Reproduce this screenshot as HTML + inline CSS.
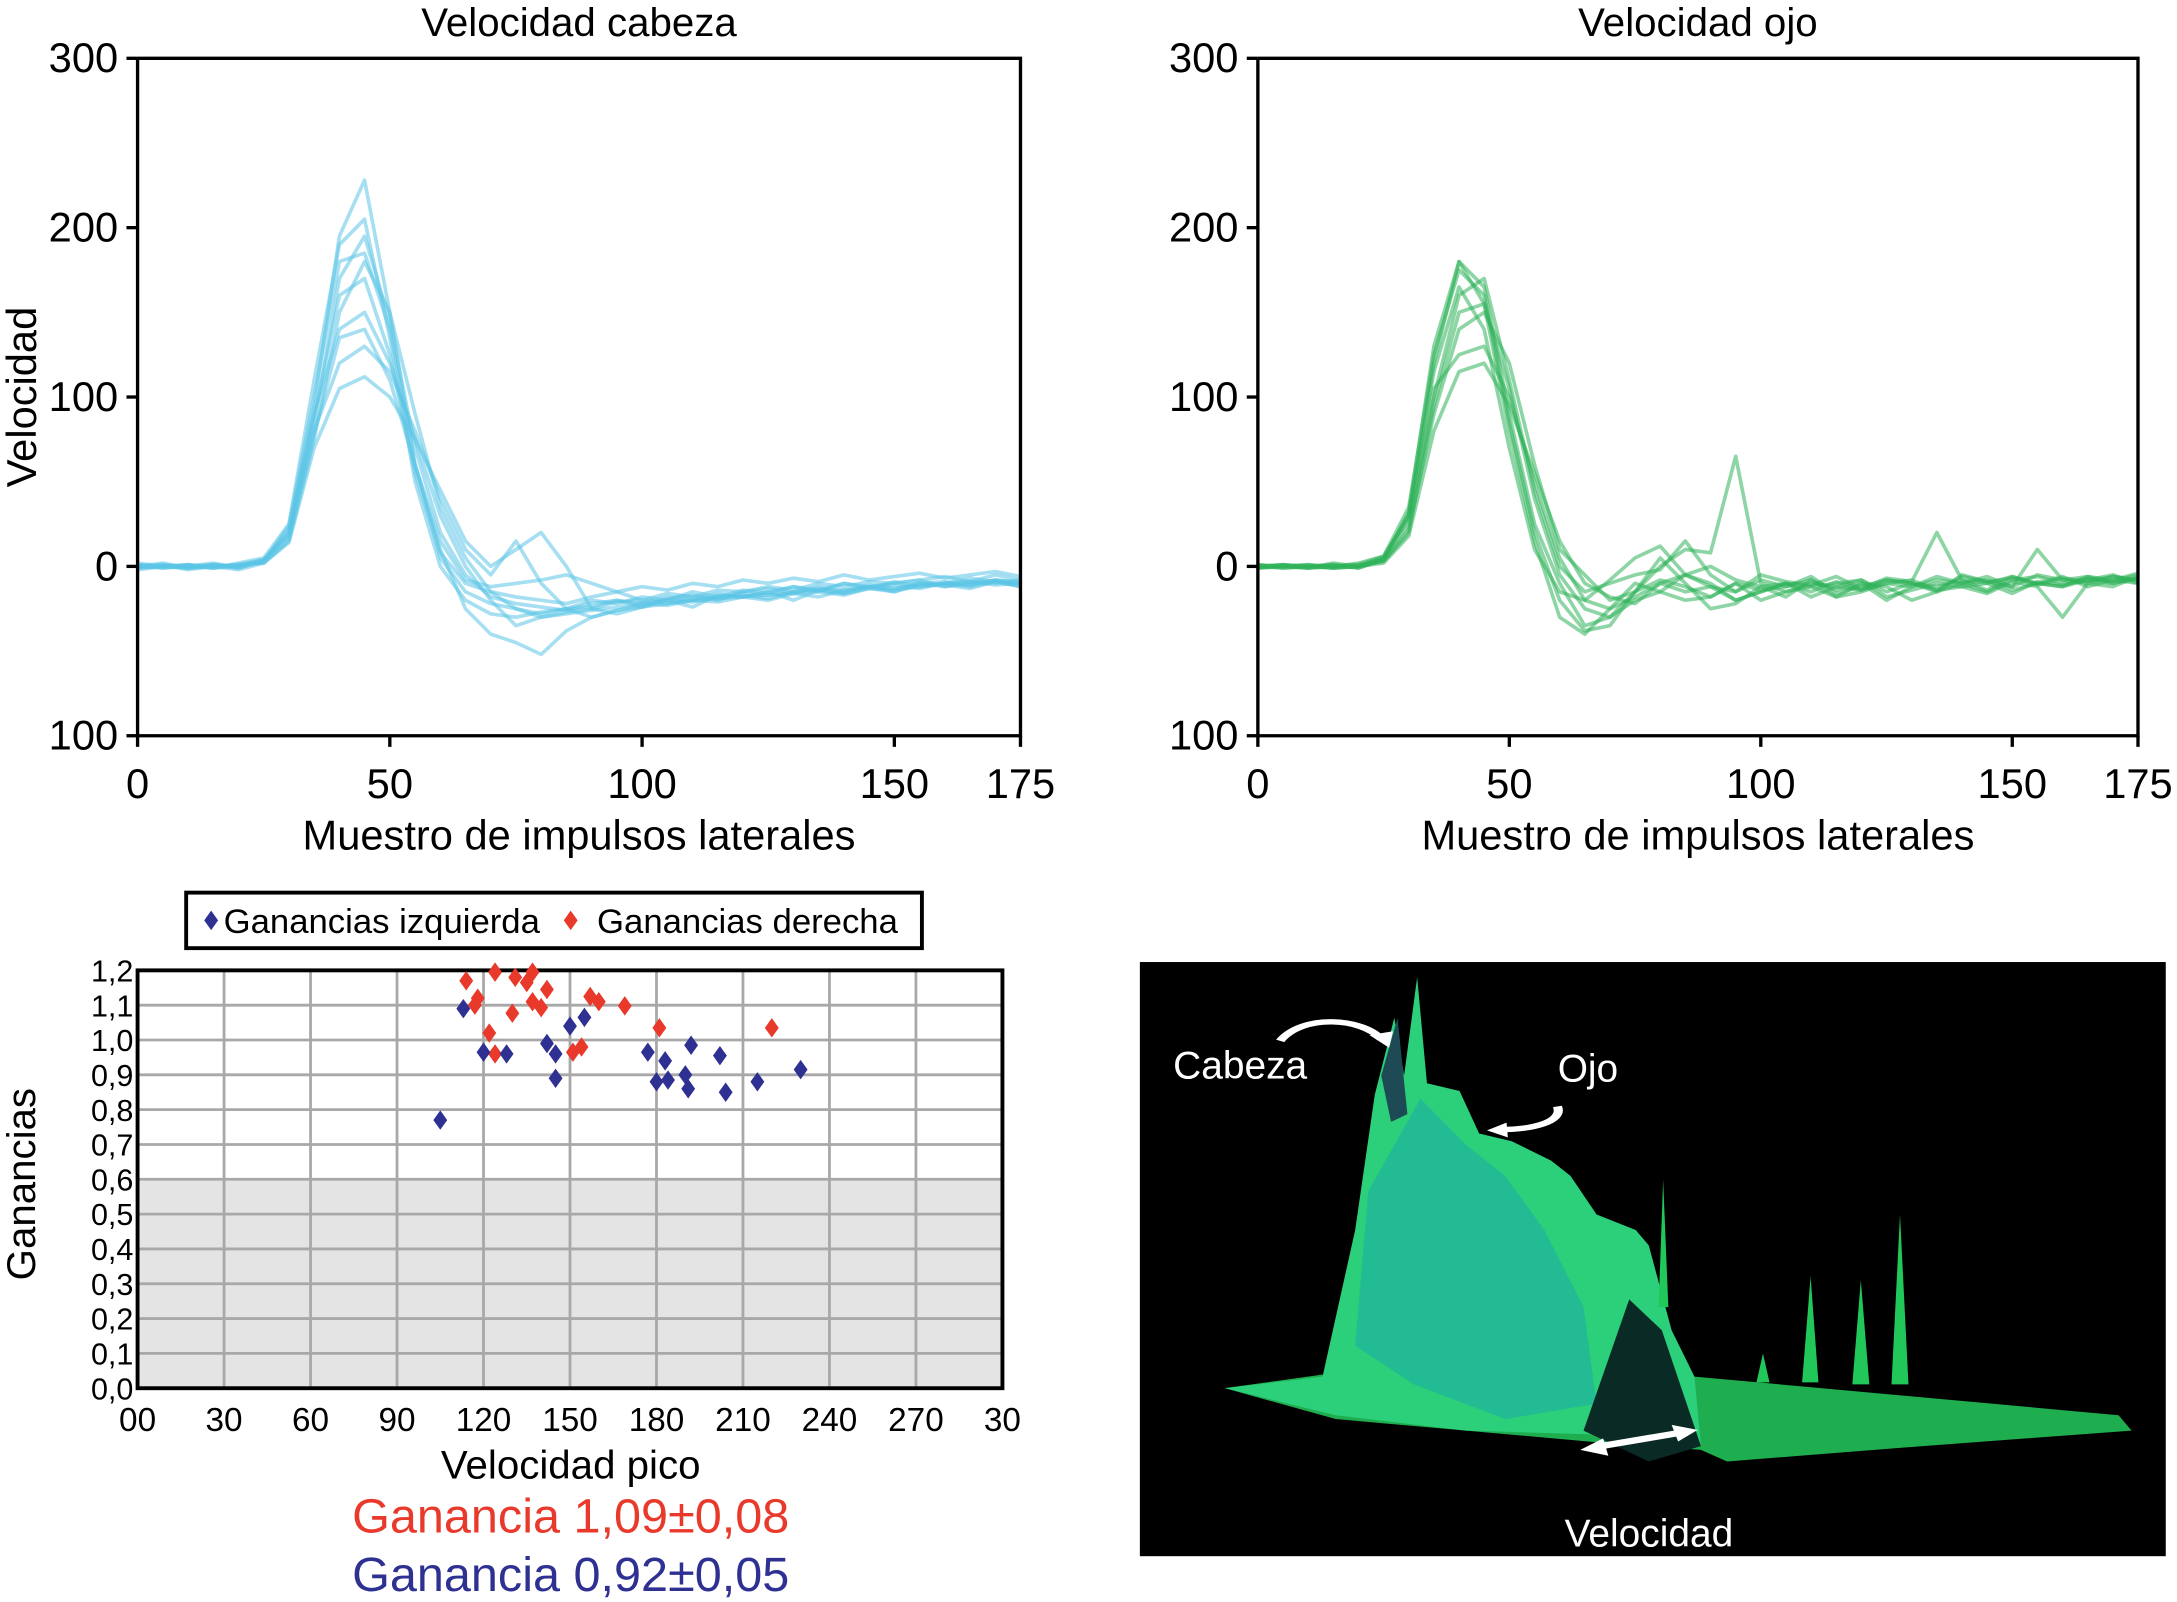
<!DOCTYPE html>
<html><head><meta charset="utf-8"><style>
html,body{margin:0;padding:0;background:#fff}
svg{display:block;font-family:"Liberation Sans",Arial,sans-serif}
</style></head><body>
<svg id="fig" width="2177" height="1602" viewBox="0 0 1568 1154" xmlns="http://www.w3.org/2000/svg">
<rect width="1568" height="1154" fill="#fff"/>
<g id="headChart"></g>
<g id="eyeChart"></g>
<g id="scatter"></g>
<g id="surface">
  <rect x="821" y="693" width="739" height="428" fill="#000"/>
  <g transform="translate(821,691.4) scale(0.47,0.278)">
    <polygon fill="#1fae4f" points="130,1110 300,1070 700,1150 850,1080 1500,1180 1520,1220 1200,1260 900,1300 860,1270 700,1250 300,1190"/>
    <polygon fill="#2ccf7a" points="130,1110 280,1080 330,700 360,350 390,150 405,300 425,45 440,320 490,340 520,450 570,470 630,520 660,560 700,660 760,700 780,740 815,960 850,1080 860,1260 700,1230 500,1220 300,1180"/>
    <polygon fill="#22b59a" opacity="0.8" points="350,600 430,360 500,480 560,560 620,700 680,900 700,1150 560,1190 420,1100 330,1000"/>
    <polygon fill="#0a2a25" points="680,1220 750,880 800,960 860,1260 780,1300"/>
    <polygon fill="#1d4a55" points="370,300 395,150 410,400 385,420"/>
    <polygon fill="#22c75a" points="795,900 802,570 810,900"/>
    <polygon fill="#22c75a" points="945,1095 955,1020 965,1095"/>
    <polygon fill="#22c75a" points="1015,1095 1028,820 1040,1095"/>
    <polygon fill="#22c75a" points="1092,1100 1105,830 1118,1100"/>
    <polygon fill="#22c75a" points="1152,1100 1165,660 1178,1100"/>
    <path d="M215,210 C250,140 340,150 370,205" fill="none" stroke="#fff" stroke-width="14"/>
    <polygon fill="#fff" points="352,195 382,228 388,185"/>
    <path d="M640,380 C650,420 600,440 555,440" fill="none" stroke="#fff" stroke-width="14"/>
    <polygon fill="#fff" points="562,422 532,442 564,460"/>
    <line x1="700" y1="1262" x2="830" y2="1225" stroke="#fff" stroke-width="16"/>
    <polygon fill="#fff" points="675,1270 710,1240 718,1285"/>
    <polygon fill="#fff" points="855,1218 815,1205 825,1248"/>
  </g>
  <text x="845" y="777" fill="#fff" font-size="28">Cabeza</text>
  <text x="1122" y="779" fill="#fff" font-size="28">Ojo</text>
  <text x="1127" y="1114" fill="#fff" font-size="28">Velocidad</text>
</g>
</svg>
<script>
const NS="http://www.w3.org/2000/svg";
function mk(parent,tag,attrs,txt){const e=document.createElementNS(NS,tag);for(const k in attrs)e.setAttribute(k,attrs[k]);if(txt!==undefined)e.textContent=txt;parent.appendChild(e);return e;}

// ---- line chart data (sample every 5) ----
const sampleStep=5;
const lineXTicks=[0,50,100,150,175];
const lineYTicks=[300,200,100,0,-100];
const lineYTickLabels=["300","200","100","0","100"];
const headTraces=[
[0,2,-1,1,0,3,20,95,195,228,150,60,5,-15,-22,-25,-28,-25,-20,-22,-18,-20,-15,-18,-14,-16,-12,-15,-10,-12,-10,-8,-12,-10,-8,-10],
[-2,0,1,-1,2,5,25,110,190,205,135,50,0,-20,-28,-30,-27,-25,-24,-20,-22,-18,-20,-16,-18,-15,-12,-14,-10,-13,-9,-12,-10,-7,-9,-12],
[1,-1,0,2,-1,4,18,85,170,195,145,70,20,-5,-18,-22,-24,-26,-22,-20,-24,-19,-17,-20,-15,-13,-16,-12,-15,-11,-13,-10,-9,-11,-8,-10],
[0,1,-2,0,1,2,15,75,150,180,150,90,35,5,-15,-25,-30,-28,-26,-24,-22,-23,-20,-19,-18,-17,-16,-18,-14,-12,-15,-11,-10,-12,-9,-11],
[-1,0,0,1,-1,3,22,90,140,150,120,75,30,0,-20,-35,-30,-27,-25,-21,-20,-22,-18,-19,-16,-17,-15,-13,-14,-12,-11,-13,-10,-9,-10,-8],
[2,0,-1,0,1,4,20,80,120,130,115,80,40,10,-5,15,-10,-25,-30,-26,-22,-20,-24,-17,-18,-15,-20,-14,-16,-13,-15,-10,-11,-13,-9,-12],
[0,-1,1,0,-2,2,14,70,105,112,100,75,45,15,0,10,20,0,-25,-28,-24,-22,-20,-21,-18,-20,-16,-15,-17,-13,-14,-12,-10,-11,-8,-9],
[-1,1,0,-1,0,3,24,100,180,185,140,60,10,-25,-40,-45,-52,-38,-30,-26,-24,-20,-21,-18,-17,-19,-15,-14,-16,-12,-13,-10,-12,-9,-11,-10],
[1,0,-1,1,0,4,18,88,160,170,125,55,8,-10,-15,-18,-20,-22,-18,-15,-20,-16,-18,-14,-15,-12,-14,-10,-12,-9,-10,-8,-6,-9,-5,-8],
[0,0,1,-1,1,2,16,78,135,140,110,60,15,-8,-12,-10,-8,-5,-10,-15,-12,-14,-10,-12,-8,-10,-7,-9,-5,-8,-6,-4,-7,-5,-3,-6]
];
const eyeTraces=[
[0,1,-1,2,0,5,30,120,180,165,90,25,-10,-35,-30,-20,-15,-5,-10,-20,-15,-10,-18,-12,-8,-15,-10,-12,-8,-14,-6,-10,-12,-8,-5,-10],
[-1,0,1,0,2,6,35,125,175,160,85,20,-20,-38,-35,-15,5,-10,-25,-22,-12,-18,-8,-14,-10,-20,-12,-6,-10,-15,-8,-6,-10,-7,-9,-5],
[1,-1,0,1,-1,4,25,100,160,170,110,45,0,-15,-10,-5,-2,15,-5,-15,-8,-12,-6,-16,-12,-8,-10,-14,-6,-9,-12,-5,-8,-10,-6,-8],
[0,0,-1,0,1,3,22,90,140,150,120,60,10,-5,-20,-15,0,10,8,65,-10,-15,-10,-12,-14,-8,-10,-15,-5,-9,-7,-10,-12,-6,-8,-4],
[-1,1,0,-1,0,5,28,105,125,130,100,50,5,-20,-25,-18,-10,-5,0,-8,-12,-10,-15,-9,-14,-10,-12,-8,-10,-6,-12,10,-8,-6,-10,-7],
[1,0,1,-1,0,2,18,80,115,120,95,55,15,-10,-18,-22,-10,-15,-12,-20,-15,-10,-12,-18,-10,-12,-20,-15,-10,-8,-14,-10,-6,-12,-8,-10],
[0,-1,0,1,-1,4,32,130,180,155,80,15,-30,-40,-25,-10,-15,-20,-18,-10,-14,-12,-8,-18,-15,-10,-8,-14,-12,-10,-16,-9,-11,-8,-10,-7],
[-1,0,-1,0,1,6,30,115,165,140,70,10,-15,-20,-8,5,12,-5,-12,-15,-5,-9,-11,-6,-13,-7,-9,20,-8,-10,-6,-11,-7,-9,-6,-8],
[0,1,0,-1,0,3,20,95,150,155,105,40,-5,-25,-30,-15,-8,-12,-18,-10,-20,-15,-12,-10,-8,-18,-14,-10,-12,-16,-9,-12,-30,-10,-12,-6]
];

function lineChart(g,x0,x1,title,traces,color,prefix){
  const y0=42,y1=530;
  const sx=v=>x0+(v/175)*(x1-x0);
  const sy=v=>y0+(300-v)/400*(y1-y0);
  const t=mk(g,"text",{x:(x0+x1)/2,y:26,"text-anchor":"middle","font-size":29},title);
  
  
  traces.forEach((tr,i)=>{
    const pts=tr.map((v,j)=>sx(j*sampleStep).toFixed(1)+","+sy(v).toFixed(1)).join(" ");
    const p=mk(g,"polyline",{points:pts,fill:"none",stroke:color,"stroke-width":2.6,"stroke-opacity":0.55,"stroke-linejoin":"round"});
    
    
  });
  const ax=mk(g,"path",{d:`M${x0},${y0}V${y1}H${x1}V${y0}H${x0}`,fill:"none",stroke:"#000","stroke-width":2.4});
  
  
  lineYTicks.forEach((v,i)=>{
    mk(g,"line",{x1:x0-8,x2:x0,y1:sy(v),y2:sy(v),stroke:"#000","stroke-width":2.4});
    const l=mk(g,"text",{x:x0-14,y:sy(v)+10,"text-anchor":"end","font-size":30},lineYTickLabels[i]);
    
    
  });
  lineXTicks.forEach(v=>{
    mk(g,"line",{x1:sx(v),x2:sx(v),y1:y1,y2:y1+8,stroke:"#000","stroke-width":2.4});
    const l=mk(g,"text",{x:sx(v),y:575,"text-anchor":"middle","font-size":30},String(v));
    
    
  });
  const xl=mk(g,"text",{x:(x0+x1)/2,y:612,"text-anchor":"middle","font-size":30},"Muestro de impulsos laterales");
  
  
}
lineChart(document.getElementById("headChart"),99,735,"Velocidad cabeza",headTraces,"#5bc4e6","head");
lineChart(document.getElementById("eyeChart"),906,1540,"Velocidad ojo",eyeTraces,"#2fb35a","eye");
{const g=document.getElementById("headChart");
const yl=mk(g,"text",{transform:"translate(26,286) rotate(-90)","text-anchor":"middle","font-size":30},"Velocidad");

}

// ---- scatter data ----
const sxTicks=[0,30,60,90,120,150,180,210,240,270,300];
const sxTickLabels=["00","30","60","90","120","150","180","210","240","270","30"];
const syTicks=[0,0.1,0.2,0.3,0.4,0.5,0.6,0.7,0.8,0.9,1.0,1.1,1.2];
const rightSpeed=[114,124,131,137,135,142,118,117,137,140,130,157,160,169,122,124,151,154,181,220];
const rightGain=[1.17,1.195,1.18,1.195,1.165,1.145,1.12,1.10,1.11,1.093,1.077,1.125,1.11,1.098,1.02,0.96,0.965,0.98,1.035,1.035];
const leftSpeed=[113,120,128,105,150,155,142,145,145,177,183,192,180,184,190,191,202,204,215,230];
const leftGain=[1.09,0.965,0.96,0.77,1.04,1.065,0.99,0.96,0.89,0.965,0.94,0.985,0.88,0.885,0.90,0.86,0.955,0.85,0.88,0.915];
{
  const g=document.getElementById("scatter");
  const X0=99,X1=722,Y0=699,Y1=1000;
  const sx=v=>X0+v/300*(X1-X0), sy=v=>Y1-v/1.2*(Y1-Y0);
  const bg=mk(g,"rect",{x:X0,y:sy(0.6),width:X1-X0,height:Y1-sy(0.6),fill:"#e4e4e4"});
  
  
  syTicks.forEach(v=>{
    mk(g,"line",{x1:X0,x2:X1,y1:sy(v),y2:sy(v),stroke:"#a8a8a8","stroke-width":2});
    const l=mk(g,"text",{x:X0-3,y:sy(v)+8,"text-anchor":"end","font-size":22},v.toFixed(1).replace(".",","));
    
    
  });
  sxTicks.forEach((v,i)=>{
    mk(g,"line",{x1:sx(v),x2:sx(v),y1:Y0,y2:Y1,stroke:"#a8a8a8","stroke-width":2});
    const l=mk(g,"text",{x:sx(v),y:1031,"text-anchor":"middle","font-size":24},sxTickLabels[i]);
    
    
  });
  const fr=mk(g,"rect",{x:X0,y:Y0,width:X1-X0,height:Y1-Y0,fill:"none",stroke:"#000","stroke-width":2.8});
  
  
  const dia=(x,y,c,name)=>{const p=mk(g,"polygon",{points:`${x},${y-7} ${x+5},${y} ${x},${y+7} ${x-5},${y}`,fill:c});
    
    };
  rightSpeed.forEach((s,i)=>dia(sx(s),sy(rightGain[i]),"#e8392b","right-gain-point"));
  leftSpeed.forEach((s,i)=>dia(sx(s),sy(leftGain[i]),"#2e3192","left-gain-point"));
  const lg=mk(g,"g",{});
  
  
  mk(lg,"rect",{x:134,y:643,width:530,height:40,fill:"#fff",stroke:"#000","stroke-width":2.8});
  mk(lg,"polygon",{points:"152,656 157,663 152,670 147,663",fill:"#2e3192"});
  const t1=mk(lg,"text",{x:161,y:672,"font-size":25},"Ganancias izquierda");
  
  
  mk(lg,"polygon",{points:"411,656 416,663 411,670 406,663",fill:"#e8392b"});
  const t2=mk(lg,"text",{x:430,y:672,"font-size":25},"Ganancias derecha");
  
  
  const yl=mk(g,"text",{transform:"translate(25,853) rotate(-90)","text-anchor":"middle","font-size":29},"Ganancias");
  
  
  const xl=mk(g,"text",{x:411,y:1065,"text-anchor":"middle","font-size":29},"Velocidad pico");
  
  
  const r=mk(g,"text",{x:411,y:1104,"text-anchor":"middle","font-size":35,fill:"#e8392b"},"Ganancia 1,09±0,08");
  
  
  const b=mk(g,"text",{x:411,y:1146,"text-anchor":"middle","font-size":35,fill:"#2e3192"},"Ganancia 0,92±0,05");
  
  
}
</script>
</body></html>
